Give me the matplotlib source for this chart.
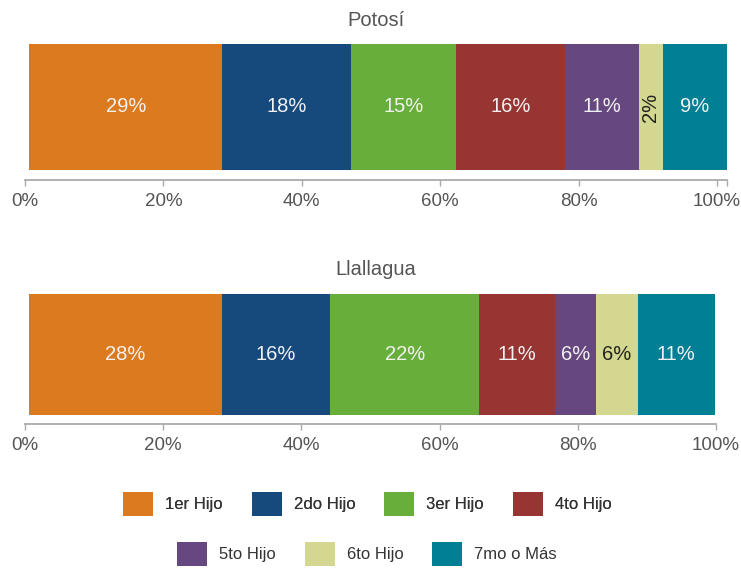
import matplotlib
matplotlib.use('Agg')
import matplotlib.pyplot as plt
from matplotlib.patches import Patch
from matplotlib.ticker import FuncFormatter

plt.rcParams['font.family'] = ['Liberation Sans', 'DejaVu Sans']

# data (segment widths in %, labels as printed)
cats = ['1er Hijo', '2do Hijo', '3er Hijo', '4to Hijo', '5to Hijo', '6to Hijo', '7mo o Más']
colors = ['#DC7A1F', '#174A7C', '#67AE3A', '#963532', '#674780', '#D3D78F', '#007F95']

potosi = [27.9, 18.6, 15.2, 15.8, 10.6, 3.5, 9.2]
potosi_lbl = ['29%', '18%', '15%', '16%', '11%', '2%', '9%']

llallagua = [27.9, 15.7, 21.5, 11.0, 5.9, 6.1, 11.1]
llallagua_lbl = ['28%', '16%', '22%', '11%', '6%', '6%', '11%']

W, H = 741, 570
fig = plt.figure(figsize=(W / 100, H / 100), dpi=100)


def px_axes(x0, x1, y0, y1):
    return fig.add_axes([x0 / W, 1 - y1 / H, (x1 - x0) / W, (y1 - y0) / H])


def draw(ax, vals, lbls, xmax, pad):
    left = 0.6
    for v, l, c in zip(vals, lbls, colors):
        ax.barh(0, v, left=left, height=1, color=c, edgecolor='none')
        dark = c == '#D3D78F'
        rot = 90 if v < 4.5 else 0
        ax.text(left + v / 2, 0, l, ha='center', va='center', rotation=rot,
                fontsize=14.5, color='#222222' if dark else '#F2F2F2')
        left += v
    ax.set_xlim(0, xmax)
    ax.set_ylim(-0.5 - pad, 0.5)
    for s in ['top', 'left', 'right']:
        ax.spines[s].set_visible(False)
    ax.spines['bottom'].set_color('#AAAAAA')
    ax.spines['bottom'].set_linewidth(1.3)
    ax.set_yticks([])
    ax.set_xticks([0, 20, 40, 60, 80, 100])
    ax.xaxis.set_major_formatter(FuncFormatter(lambda x, p: f'{x:.0f}%'))
    ax.tick_params(axis='x', length=4, width=1, color='#AAAAAA',
                   labelsize=13.5, labelcolor='#555555', pad=5)
    if xmax > 100:
        ax.set_xticks([xmax], minor=True)
        ax.tick_params(axis='x', which='minor', length=4, width=1, color='#AAAAAA')


ax1 = px_axes(25, 726.7, 44, 180)
draw(ax1, potosi, potosi_lbl, 101.4, 10 / 126)

ax2 = px_axes(25, 716, 294, 424)
draw(ax2, llallagua, llallagua_lbl, 100, 9 / 121)

fig.text(375.7 / W, 1 - 26 / H, 'Potosí', ha='center', va='baseline',
         fontsize=14.5, color='#555555')
fig.text(375.7 / W, 1 - 275 / H, 'Llallagua', ha='center', va='baseline',
         fontsize=14.5, color='#555555')

handles = [Patch(facecolor=c, edgecolor='none', label=n) for c, n in zip(colors, cats)]
leg_kw = dict(frameon=False, loc='center', handlelength=1.8, handleheight=1.8,
              handletextpad=0.72, columnspacing=1.74, borderpad=0, borderaxespad=0,
              prop={'size': 12}, labelcolor='#333333')
leg1 = fig.legend(handles=handles[:4], ncol=4, bbox_to_anchor=(367.5 / W, 1 - 504 / H), **leg_kw)
fig.add_artist(leg1)
fig.legend(handles=handles[4:], ncol=3, bbox_to_anchor=(367 / W, 1 - 554 / H), **leg_kw)

fig.savefig('out.png', dpi=100)
